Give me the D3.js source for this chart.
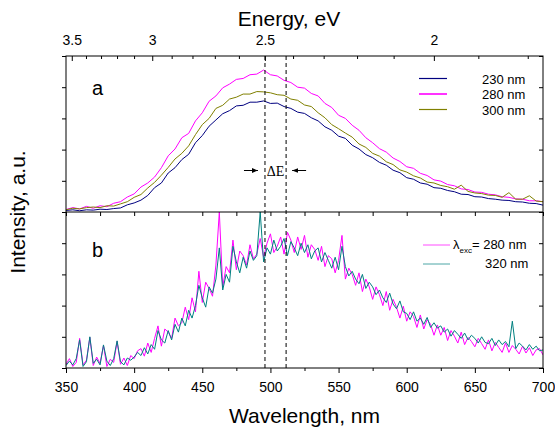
<!DOCTYPE html>
<html><head><meta charset="utf-8">
<script src="https://cdn.jsdelivr.net/npm/d3@7"></script>
<style>
body{margin:0;background:#fff;}
svg{display:block;font-family:Arial,"Liberation Sans",sans-serif;}
</style></head>
<body><svg id="c" width="555" height="431"></svg>
<script>
// ---------- data ----------
const HC = 1239.84;
const wavelengthsA = d3.range(350, 700.1, 5);      // 5 nm sampling, panel a
const wavelengthsB = d3.range(350, 700.1, 2.5);    // 2.5 nm sampling, panel b
const seriesA = ["230 nm", "280 nm", "300 nm"];
const colorsA = ["#000080", "#ff00ff", "#808000"];
const ex230 = [0.05,0.07,0.04,0.07,0.06,0.09,0.08,0.11,0.13,0.23,
  0.29,0.38,0.53,0.78,0.93,1.25,1.42,1.68,1.85,2.22,
  2.45,2.75,2.95,3.15,3.25,3.4,3.42,3.52,3.52,3.56,
  3.48,3.49,3.38,3.32,3.2,3.16,3.02,2.92,2.73,2.62,
  2.43,2.36,2.14,2.02,1.84,1.74,1.59,1.5,1.34,1.26,
  1.1,1.05,0.93,0.89,0.78,0.76,0.69,0.65,0.57,0.56,
  0.49,0.48,0.43,0.41,0.38,0.37,0.33,0.32,0.28,0.27,0.22];
const ex280 = [0.08,0.14,0.1,0.18,0.12,0.2,0.17,0.28,0.33,0.48,
  0.58,0.8,0.93,1.12,1.42,1.8,2.02,2.38,2.52,2.92,
  3.18,3.55,3.72,3.98,4.1,4.25,4.28,4.4,4.42,4.55,
  4.4,4.36,4.22,4.15,4.0,3.97,3.8,3.72,3.48,3.35,
  3.1,3.0,2.78,2.62,2.38,2.22,2.03,1.92,1.73,1.62,
  1.45,1.4,1.24,1.17,1.03,0.99,0.88,0.84,0.74,0.72,
  0.64,0.63,0.57,0.55,0.49,0.47,0.42,0.41,0.36,0.36,0.33];
const ex300 = [0.07,0.12,0.1,0.14,0.16,0.14,0.2,0.19,0.26,0.33,
  0.47,0.56,0.77,0.95,1.18,1.43,1.7,1.88,2.12,2.48,
  2.8,3.0,3.32,3.42,3.62,3.68,3.78,3.78,3.86,3.85,
  3.82,3.76,3.74,3.62,3.58,3.43,3.38,3.18,3.02,2.8,
  2.67,2.53,2.4,2.18,2.07,1.88,1.79,1.61,1.52,1.35,
  1.28,1.16,1.09,0.96,0.93,0.85,0.81,0.73,0.86,0.66,
  0.61,0.59,0.54,0.53,0.47,0.62,0.41,0.41,0.52,0.35,0.33];
const valuesA = [ex230, ex280, ex300];

const seriesB = ["280 nm", "320 nm"];
const colorsB = ["#ff00ff", "#008080"];
const exB280 = [0.12,0.3,0.05,0.18,0.95,0.1,0.25,0.98,0.08,0.35,
  0.15,0.72,0.05,0.28,0.18,0.85,0.12,0.32,0.08,0.4,
  0.3,0.55,0.62,0.38,0.8,0.5,0.95,1.35,0.7,1.25,
  1.15,0.95,1.6,1.35,1.45,1.95,1.55,2.25,1.8,3.1,
  2.1,2.75,2.55,2.3,3.3,5.0,2.6,3.25,3.05,4.1,
  3.15,3.75,3.6,3.3,3.95,3.5,3.65,4.15,3.55,4.0,
  4.3,3.7,3.9,4.2,3.65,4.35,4.1,3.7,4.2,3.8,
  4.25,3.55,3.95,3.8,3.45,3.9,3.25,3.6,3.5,3.05,
  3.45,4.25,2.85,3.2,3.0,2.65,3.05,2.45,2.85,2.6,
  2.2,2.6,2.35,2.0,2.45,1.85,2.2,1.95,1.6,1.98,
  1.5,1.8,1.65,1.3,1.7,1.25,1.55,1.4,1.05,1.38,
  1.05,1.3,0.88,1.2,1.02,0.8,1.15,0.75,0.98,0.85,
  0.68,0.95,0.78,0.6,0.9,0.55,0.82,0.66,0.5,0.8,
  0.5,0.72,0.6,0.45,0.7,0.48,0.65,0.4,0.58,0.62,
  0.42];
const exB320 = [0.08,0.22,0.1,0.3,0.9,0.05,0.2,1.0,0.15,0.28,
  0.1,0.74,0.22,0.08,0.3,0.87,0.2,0.1,0.32,0.25,
  0.35,0.5,0.4,0.65,0.45,0.75,0.6,1.2,0.9,0.8,
  1.2,0.9,1.4,1.15,1.6,1.35,1.85,1.6,2.0,2.65,
  2.25,1.95,2.6,2.4,2.85,3.85,2.5,3.0,2.75,3.9,
  3.4,3.05,3.55,3.2,3.75,3.45,3.6,5.0,3.4,3.85,
  3.65,4.1,3.75,3.9,4.15,3.6,4.05,3.85,3.6,4.0,
  3.7,3.95,3.5,3.75,3.85,3.4,3.7,3.45,3.2,3.55,
  3.15,3.9,3.25,2.95,3.1,2.85,2.7,3.0,2.55,2.75,
  2.6,2.35,2.5,2.25,2.1,2.4,2.05,1.9,2.15,1.8,
  1.75,1.55,1.8,1.5,1.6,1.4,1.62,1.3,1.45,1.28,
  1.35,1.15,1.25,1.02,1.2,1.08,0.95,1.12,0.9,1.05,
  0.95,0.8,1.0,0.82,0.78,0.95,0.72,0.9,0.75,0.85,
  0.68,1.5,0.62,0.8,0.7,0.58,0.75,0.6,0.7,0.55,
  0.58];
const valuesB = [exB280, exB320];

const wlMajor = [350,400,450,500,550,600,650,700];
const wlMinor = [375,425,475,525,575,625,675];
const eMajor = [3.5,3,2.5,2];
const eMinor = [3.4,3.3,3.2,3.1,2.9,2.8,2.7,2.6,2.4,2.3,2.2,2.1,1.9,1.8];
const yTicks = [0,1,2,3,4,5];
const deltaE = [496, 511.5];

// ---------- layout ----------
const svg = d3.select("#c");
const L = 66, R = 543, T = 56, M = 212, B = 368;
const x = d3.scaleLinear().domain([350,700]).range([L,R]);
const yA = d3.scaleLinear().domain([0,5]).range([M,T]);
const yB = d3.scaleLinear().domain([0,5]).range([B,M]);

const defs = svg.append("defs");
defs.append("clipPath").attr("id","ca").append("rect").attr("x",L).attr("y",T).attr("width",R-L).attr("height",M-T);
defs.append("clipPath").attr("id","cb").append("rect").attr("x",L).attr("y",M).attr("width",R-L).attr("height",B-M);

// data lines
const gA = svg.append("g").attr("clip-path","url(#ca)");
valuesA.forEach((vals,i)=>{
  const line = d3.line().x((d,j)=>x(wavelengthsA[j])).y(d=>yA(d));
  gA.append("path").datum(vals).attr("d",line).attr("fill","none")
    .attr("stroke",colorsA[i]).attr("stroke-width",1);
});
const gB = svg.append("g").attr("clip-path","url(#cb)");
valuesB.forEach((vals,i)=>{
  const line = d3.line().x((d,j)=>x(wavelengthsB[j])).y(d=>yB(d));
  gB.append("path").datum(vals).attr("d",line).attr("fill","none")
    .attr("stroke",colorsB[i]).attr("stroke-width",1);
});

// dashed lines
deltaE.forEach(w=>{
  svg.append("line").attr("x1",x(w)).attr("x2",x(w)).attr("y1",T).attr("y2",B)
    .attr("stroke","#000").attr("stroke-width",1).attr("stroke-dasharray","4,3");
});

// axes helper
function clean(g){ g.select(".domain").remove(); g.selectAll("line").attr("stroke","#000"); g.selectAll("text").attr("fill","#000"); }

// bottom axis
svg.append("g").attr("transform",`translate(0,${B})`)
  .call(d3.axisBottom(x).tickValues(wlMajor).tickSize(5).tickPadding(9).tickFormat(d3.format("d")))
  .call(clean).selectAll("text").style("font-size","14px").style("font-family","Arial, 'Liberation Sans'");
svg.append("g").attr("transform",`translate(0,${B})`)
  .call(d3.axisBottom(x).tickValues(wlMinor).tickSize(3).tickFormat("")).call(clean);

// middle divider ticks (panel b top, inward)
svg.append("g").attr("transform",`translate(0,${M})`)
  .call(d3.axisTop(x).tickValues(wlMajor.concat(wlMinor)).tickSize(-4).tickFormat("")).call(clean);

// top energy axis (inward ticks)
const topG = svg.append("g").attr("transform",`translate(0,${T})`)
  .call(d3.axisTop(x).tickValues(eMajor.map(e=>HC/e)).tickSize(-5).tickPadding(11)
    .tickFormat(l=>d3.format("")(Math.round(HC/l*10)/10)))
  .call(clean);
topG.selectAll("text").style("font-size","14px").style("font-family","Arial, 'Liberation Sans'");
svg.append("g").attr("transform",`translate(0,${T})`)
  .call(d3.axisTop(x).tickValues(eMinor.map(e=>HC/e)).tickSize(-3).tickFormat("")).call(clean);

// left / right axes
[yA,yB].forEach(ys=>{
  svg.append("g").attr("transform",`translate(${L},0)`)
    .call(d3.axisLeft(ys).tickValues(yTicks).tickSize(4).tickFormat("")).call(clean);
  svg.append("g").attr("transform",`translate(${R},0)`)
    .call(d3.axisRight(ys).tickValues(yTicks).tickSize(-4).tickFormat("")).call(clean);
});

// frames
svg.append("rect").attr("x",L).attr("y",T).attr("width",R-L).attr("height",B-T)
  .attr("fill","none").attr("stroke","#000").attr("stroke-width",1);
svg.append("line").attr("x1",L).attr("x2",R).attr("y1",M).attr("y2",M).attr("stroke","#000");

// titles
svg.append("text").attr("x",289).attr("y",26).attr("text-anchor","middle")
  .style("font-size","21px").text("Energy, eV");
svg.append("text").attr("x",(L+R)/2).attr("y",423).attr("text-anchor","middle")
  .style("font-size","21px").text("Wavelength, nm");
svg.append("text").attr("transform",`translate(25,${(T+B)/2}) rotate(-90)`).attr("text-anchor","middle")
  .style("font-size","21px").text("Intensity, a.u.");

// panel letters
svg.append("text").attr("x",92).attr("y",95).style("font-size","20px").text("a");
svg.append("text").attr("x",92).attr("y",257).style("font-size","20px").text("b");

// delta E annotation
const ay = yA(1.33);
const xl = x(deltaE[0]), xr = x(deltaE[1]);
defs.append("marker").attr("id","ah").attr("viewBox","0 0 10 10").attr("refX",10).attr("refY",5)
  .attr("markerWidth",6).attr("markerHeight",6).attr("orient","auto")
  .append("path").attr("d","M0,1 L10,5 L0,9 z").attr("fill","#000");
svg.append("line").attr("x1",xl-21).attr("x2",xl-7).attr("y1",ay).attr("y2",ay)
  .attr("stroke","#000").attr("stroke-width",1).attr("marker-end","url(#ah)");
svg.append("line").attr("x1",xr+20).attr("x2",xr+6).attr("y1",ay).attr("y2",ay)
  .attr("stroke","#000").attr("stroke-width",1).attr("marker-end","url(#ah)");
svg.append("text").attr("x",(xl+xr)/2).attr("y",ay+5).attr("text-anchor","middle")
  .style("font-family","'Liberation Serif','Times New Roman',serif").style("font-size","14px").text("ΔE");

// legend a
const legA = svg.append("g");
seriesA.forEach((s,i)=>{
  const yy = 78.5 + i*15.5;
  legA.append("line").attr("x1",419).attr("x2",447).attr("y1",yy).attr("y2",yy)
    .attr("stroke",colorsA[i]).attr("stroke-width", i===1 ? 1.6 : 1.2);
  legA.append("text").attr("x",482).attr("y",yy+5).style("font-size","13px").text(s);
});
// legend b
const legB = svg.append("g");
seriesB.forEach((s,i)=>{
  const yy = 245 + i*19;
  legB.append("line").attr("x1",423).attr("x2",450).attr("y1",yy).attr("y2",yy)
    .attr("stroke",colorsB[i]).attr("stroke-width",1).attr("stroke-opacity",0.7);
});
const t1 = legB.append("text").attr("x",453).attr("y",249).style("font-size","13px");
t1.append("tspan").text("λ");
t1.append("tspan").attr("dy",4).style("font-size","8px").text("exc");
t1.append("tspan").attr("dy",-4).text("= " + seriesB[0]);
legB.append("text").attr("x",485).attr("y",268).style("font-size","13px").text(seriesB[1]);
</script></body></html>
